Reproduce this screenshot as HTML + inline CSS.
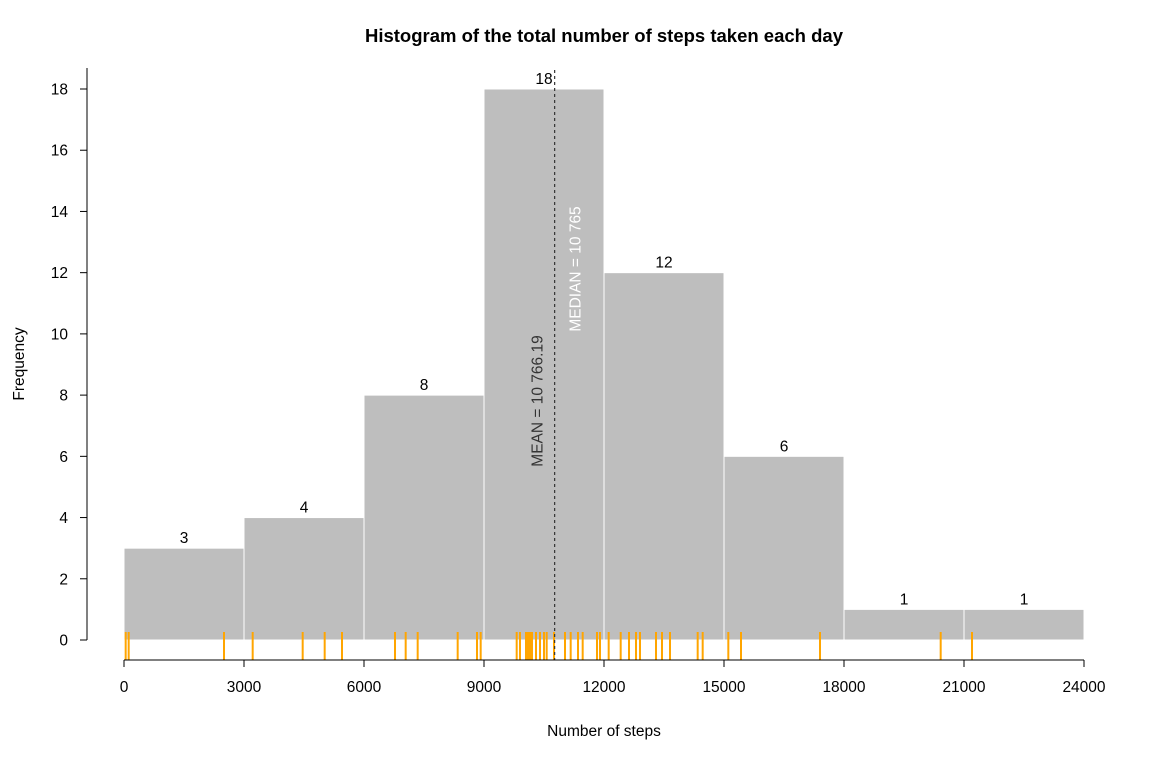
<!DOCTYPE html>
<html><head><meta charset="utf-8"><style>body{margin:0;background:#fff}svg{display:block;font-family:"Liberation Sans",Arial,sans-serif}</style></head>
<body>
<svg id="c" width="1152" height="768"></svg>
<script>
const binEdges=[0,3000,6000,9000,12000,15000,18000,21000,24000];
const counts=[3,4,8,18,12,6,1,1];
const yTicks=[0,2,4,6,8,10,12,14,16,18];
const xTicks=[0,3000,6000,9000,12000,15000,18000,21000,24000];
const rugValues=[42,117,2500,3217,4467,5017,5450,6775,7042,7342,8342,8825,8917,9817,9900,10050,10100,10150,10200,10300,10400,10500,10567,10750,11025,11167,11350,11467,11825,11900,12117,12417,12625,12800,12900,13300,13450,13650,14342,14467,15108,15425,17400,20417,21200];
const meanVal=10766.19, medianVal=10765;
const NS="http://www.w3.org/2000/svg";
const svg=document.getElementById('c');
const X=v=>124+v*(960/24000);
const Y=v=>640-v*(551/18);
const FS=15.5;
function mk(t,a,txt){const e=document.createElementNS(NS,t);for(const k in a)e.setAttribute(k,a[k]);if(txt!=null)e.textContent=txt;svg.appendChild(e);return e;}
let e;
e=mk('text',{x:604,y:42,'text-anchor':'middle','font-size':18.5,'font-weight':'bold'},'Histogram of the total number of steps taken each day');


counts.forEach((c,i)=>{
 const b=mk('rect',{x:X(binEdges[i]),y:Y(c),width:X(binEdges[i+1])-X(binEdges[i]),height:Y(0)-Y(c),fill:'#bebebe',stroke:'#fff','stroke-width':1});
 
 
 const t=mk('text',{x:(X(binEdges[i])+X(binEdges[i+1]))/2,y:Y(c)-5,'text-anchor':'middle','font-size':FS},String(c));
 
 
});
rugValues.forEach((v,i)=>{
 const r=mk('line',{x1:X(v),x2:X(v),y1:632,y2:660,stroke:'#ffa500','stroke-width':2});
 
 
});
e=mk('line',{x1:X(meanVal),x2:X(meanVal),y1:70,y2:660,stroke:'#333','stroke-width':1.2,'stroke-dasharray':'3,3'});


e=mk('text',{x:0,y:0,transform:`translate(${X(meanVal)-12},401) rotate(-90)`,'text-anchor':'middle','font-size':FS,fill:'#333'},'MEAN = 10 766.19');


e=mk('text',{x:0,y:0,transform:`translate(${X(medianVal)+26},269) rotate(-90)`,'text-anchor':'middle','font-size':FS,fill:'#fff'},'MEDIAN = 10 765');


e=mk('line',{x1:87,x2:87,y1:68,y2:Y(0),stroke:'#000'});


yTicks.forEach(v=>{
 mk('line',{x1:80,x2:87,y1:Y(v),y2:Y(v),stroke:'#000'});
 const t=mk('text',{x:68,y:Y(v)+5.5,'text-anchor':'end','font-size':FS},String(v));
 
 
});
e=mk('line',{x1:X(0),x2:X(24000),y1:660,y2:660,stroke:'#000'});


xTicks.forEach(v=>{
 mk('line',{x1:X(v),x2:X(v),y1:660,y2:667,stroke:'#000'});
 const t=mk('text',{x:X(v),y:692,'text-anchor':'middle','font-size':FS},String(v));
 
 
});
e=mk('text',{x:604,y:736,'text-anchor':'middle','font-size':FS},'Number of steps');


e=mk('text',{x:0,y:0,transform:'translate(24,364) rotate(-90)','text-anchor':'middle','font-size':FS},'Frequency');


</script>
</body></html>
